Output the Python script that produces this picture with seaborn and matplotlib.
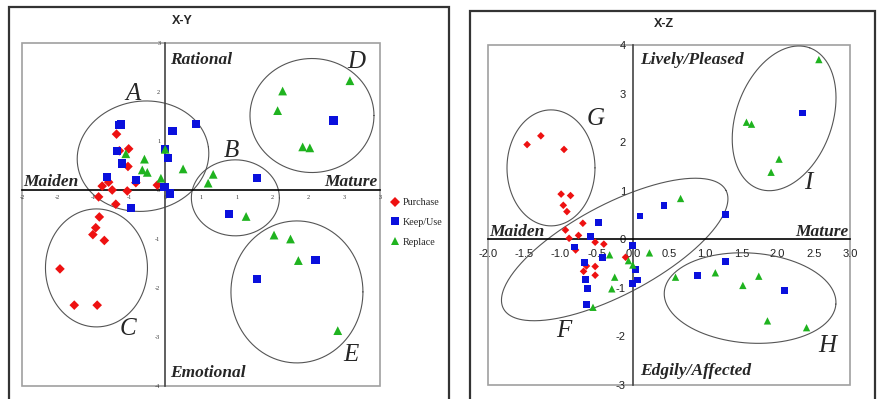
import numpy as np
import pandas as pd
import matplotlib
matplotlib.use("Agg")
import matplotlib.pyplot as plt
from matplotlib.patches import Rectangle
import seaborn as sns

# ---- data: X-Y plane ----
xy_purchase_x = [-0.68, -0.51, -0.64, -0.52, -0.88, -0.79, -0.74, -0.53, -0.41, -0.11,
                 -0.93, -0.69, -0.92, -0.97, -1.01, -0.85, -1.47, -1.27, -0.95]
xy_purchase_y = [1.14, 0.84, 0.80, 0.48, 0.08, 0.16, 0.00, -0.02, 0.15, 0.10,
                 -0.14, -0.29, -0.55, -0.77, -0.91, -1.03, -1.61, -2.35, -2.35]
xy_keep_x = [-0.64, -0.62, 0.10, 0.43, -0.67, 0.00, 0.04, -0.60, -0.81, -0.41,
             -0.01, 0.07, 1.28, 2.35, -0.48, 0.89, 2.10, 1.28]
xy_keep_y = [1.32, 1.34, 1.21, 1.35, 0.79, 0.84, 0.65, 0.54, 0.27, 0.20,
             0.06, -0.07, 0.24, 1.42, -0.37, -0.49, -1.43, -1.81]
xy_replace_x = [-0.55, -0.29, -0.32, -0.25, -0.06, 0.00, 0.25, 0.67, 0.60, 1.64,
                1.57, 2.58, 1.92, 2.02, 1.13, 1.52, 1.75, 1.86, 2.41]
xy_replace_y = [0.74, 0.63, 0.41, 0.36, 0.24, 0.83, 0.43, 0.32, 0.14, 2.02,
                1.62, 2.23, 0.88, 0.86, -0.54, -0.92, -1.00, -1.44, -2.87]

# ---- data: X-Z plane ----
xz_purchase_x = [-1.46, -1.27, -0.95, -0.99, -0.86, -0.96, -0.91, -0.69, -0.93, -0.75,
                 -0.88, -0.79, -0.52, -0.40, -0.10, -0.64, -0.52, -0.68, -0.52]
xz_purchase_y = [1.95, 2.13, 1.85, 0.93, 0.90, 0.70, 0.57, 0.33, 0.19, 0.08,
                 0.02, -0.22, -0.06, -0.10, -0.37, -0.55, -0.56, -0.66, -0.74]
xz_keep_x = [2.34, 0.43, 0.10, 1.28, -0.47, -0.58, -0.80, 0.00, -0.42, -0.67,
             0.04, -0.65, -0.63, 0.06, 0.00, -0.64, 1.28, 0.89, 2.10]
xz_keep_y = [2.60, 0.69, 0.48, 0.51, 0.34, 0.05, -0.16, -0.13, -0.38, -0.48,
             -0.62, -0.82, -1.01, -0.84, -0.91, -1.34, -0.46, -0.75, -1.06]
xz_replace_x = [2.57, 1.57, 1.64, 2.02, 1.91, 0.66, -0.32, 0.23, -0.06, 0.00,
                -0.25, -0.29, -0.55, 0.59, 1.14, 1.52, 1.74, 1.86, 2.40]
xz_replace_y = [3.70, 2.41, 2.37, 1.65, 1.38, 0.84, -0.32, -0.28, -0.44, -0.53,
                -0.78, -1.02, -1.40, -0.78, -0.69, -0.95, -0.76, -1.68, -1.82]

groups = ["Purchase", "Keep/Use", "Replace"]
colors = {"Purchase": "#ee1111", "Keep/Use": "#0a10dd", "Replace": "#1fb31f"}
markers = {"Purchase": "D", "Keep/Use": "s", "Replace": "^"}
xy_sizes = {"Purchase": 24, "Keep/Use": 36, "Replace": 40}
xz_sizes = {"Purchase": 15, "Keep/Use": 24, "Replace": 28}

xy_xticks = [-2, -1.5, -1, -0.5, 0, 0.5, 1, 1.5, 2, 2.5, 3]
xy_xtick_labels = ["-2", "-2", "-1", "-1", "0", "1", "1", "2", "2", "3", "3"]
xy_yticks = [-4, -3, -2, -1, 0, 1, 2, 3]
xz_xticks = [-2, -1.5, -1, -0.5, 0, 0.5, 1, 1.5, 2, 2.5, 3]
xz_xtick_labels = ["-2.0", "-1.5", "-1.0", "-0.5", "0.0", "0.5", "1.0", "1.5", "2.0", "2.5", "3.0"]
xz_yticks = [-3, -2, -1, 0, 1, 2, 3, 4]

# cluster outlines: centre (data), semi-axes (px), angle (deg), label + label position
xy_clusters = [((-0.31, 0.69), 66, 55, 8, "A", (-0.45, 1.96)),
               ((0.98, -0.16), 44, 38, 0, "B", (0.92, 0.80)),
               ((-0.96, -1.59), 51, 59, 0, "C", (-0.52, -2.84)),
               ((2.05, 1.52), 62, 57, 0, "D", (2.67, 2.61)),
               ((1.84, -2.08), 66, 71, 0, "E", (2.60, -3.37))]
xz_clusters = [((-1.13, 1.47), 44, 58, 0, "G", (-0.51, 2.47)),
               ((2.09, 2.49), 75, 48, 70, "I", (2.42, 1.15)),
               ((-0.25, -0.21), 126, 45, 28, "F", (-0.95, -1.89)),
               ((1.62, -1.21), 86, 45, -4, "H", (2.69, -2.20))]


def make_df(px, py, kx, ky, rx, ry):
    return pd.DataFrame({
        "x": px + kx + rx,
        "y": py + ky + ry,
        "group": ["Purchase"] * len(px) + ["Keep/Use"] * len(kx) + ["Replace"] * len(rx),
    })


xy_df = make_df(xy_purchase_x, xy_purchase_y, xy_keep_x, xy_keep_y, xy_replace_x, xy_replace_y)
xz_df = make_df(xz_purchase_x, xz_purchase_y, xz_keep_x, xz_keep_y, xz_replace_x, xz_replace_y)

sns.set_style("white")
plt.rcParams["font.family"] = ["Liberation Serif", "DejaVu Serif"]
plt.rcParams["axes.unicode_minus"] = False

W, H = 878, 399
fig = plt.figure(figsize=(W / 100, H / 100), dpi=100)

# outer chart boxes
fig.add_artist(Rectangle((9 / W, -0.05), 440 / W, (H - 7) / H + 0.05, transform=fig.transFigure,
                         fill=False, ec="#333333", lw=1.6))
fig.add_artist(Rectangle((470 / W, -0.05), 405 / W, (H - 11) / H + 0.05, transform=fig.transFigure,
                         fill=False, ec="#333333", lw=1.6))

ax1 = fig.add_axes([22 / W, (H - 386) / H, 358 / W, 343 / H])
ax2 = fig.add_axes([488 / W, (H - 385) / H, 362 / W, 340 / H])


def style_axes(ax, xlim, ylim):
    ax.set_xlim(*xlim)
    ax.set_ylim(*ylim)
    ax.add_patch(Rectangle((0, 0), 1, 1, transform=ax.transAxes, fill=False,
                           ec="#a0a0a0", lw=1.2, clip_on=False, zorder=0))
    for s in ["top", "right"]:
        ax.spines[s].set_visible(False)
    ax.spines["bottom"].set_position(("data", 0))
    ax.spines["left"].set_position(("data", 0))
    ax.spines["bottom"].set_color("black")
    ax.spines["left"].set_color("#444444")
    ax.spines["bottom"].set_linewidth(1.2)
    ax.spines["left"].set_linewidth(1.2)
    ax.set_xlabel("")
    ax.set_ylabel("")


def draw_clusters(ax, clusters, xlim, ylim, w_px, h_px):
    sx = w_px / (xlim[1] - xlim[0])
    sy = h_px / (ylim[1] - ylim[0])
    t = np.linspace(0, 2 * np.pi, 300)
    for (cx, cy), a, b, ang, lab, (lx, ly) in clusters:
        th = np.radians(ang)
        dx = (a * np.cos(th) * np.cos(t) - b * np.sin(th) * np.sin(t)) / sx
        dy = (a * np.sin(th) * np.cos(t) + b * np.cos(th) * np.sin(t)) / sy
        ax.plot(cx + dx, cy + dy, color="#555555", lw=0.8, zorder=1)
        ax.text(lx, ly, lab, fontsize=18, fontstyle="italic", ha="center", va="center")


# ---- X-Y panel ----
sns.scatterplot(data=xy_df, x="x", y="y", hue="group", style="group", size="group",
                hue_order=groups, style_order=groups, size_order=groups, palette=colors,
                markers=markers, sizes=xy_sizes, linewidth=0, ax=ax1, zorder=3)
style_axes(ax1, (-2, 3), (-4, 3))
ax1.set_xticks(xy_xticks)
ax1.set_xticklabels(xy_xtick_labels)
ax1.set_yticks(xy_yticks)
ax1.tick_params(axis="both", direction="inout", length=3, width=0.6, labelsize=4.5, pad=2,
                colors="#333333")
draw_clusters(ax1, xy_clusters, (-2, 3), (-4, 3), 358, 343)

bi = dict(fontsize=12.5, fontweight="bold", fontstyle="italic")
ax1.text(0.07, 2.65, "Rational", ha="left", va="center", **bi)
ax1.text(0.07, -3.73, "Emotional", ha="left", va="center", **bi)
ax1.text(-1.98, 0.17, "Maiden", ha="left", va="center", **bi)
ax1.text(2.97, 0.17, "Mature", ha="right", va="center", **bi)

sns.move_legend(ax1, "upper left", bbox_to_anchor=(386 / W, (H - 194) / H),
                bbox_transform=fig.transFigure, frameon=False, title=None,
                prop={"family": "Liberation Serif", "size": 7.3},
                handletextpad=0.2, labelspacing=1.05, handlelength=1.0, borderaxespad=0)

# ---- X-Z panel ----
sns.scatterplot(data=xz_df, x="x", y="y", hue="group", style="group", size="group",
                hue_order=groups, style_order=groups, size_order=groups, palette=colors,
                markers=markers, sizes=xz_sizes, linewidth=0, ax=ax2, zorder=3, legend=False)
style_axes(ax2, (-2, 3), (-3, 4))
ax2.set_xticks(xz_xticks)
ax2.set_xticklabels(xz_xtick_labels)
ax2.set_yticks(xz_yticks)
ax2.tick_params(axis="both", direction="inout", length=4, width=0.8, labelsize=8, pad=3,
                colors="#222222")
ax2.tick_params(axis="x", pad=5)
for lbl in ax2.get_xticklabels() + ax2.get_yticklabels():
    lbl.set_family("Liberation Sans")
draw_clusters(ax2, xz_clusters, (-2, 3), (-3, 4), 362, 340)

ax2.text(0.10, 3.70, "Lively/Pleased", ha="left", va="center", **bi)
ax2.text(0.10, -2.72, "Edgily/Affected", ha="left", va="center", **bi)
ax2.text(-1.98, 0.15, "Maiden", ha="left", va="center", **bi)
ax2.text(2.98, 0.15, "Mature", ha="right", va="center", **bi)

# titles
fig.text(182 / W, 1 - 21 / H, "X-Y", ha="center", va="center", fontsize=9,
         fontweight="bold", family="Liberation Sans")
fig.text(664 / W, 1 - 24 / H, "X-Z", ha="center", va="center", fontsize=9,
         fontweight="bold", family="Liberation Sans")

fig.savefig("out.png", dpi=100)
